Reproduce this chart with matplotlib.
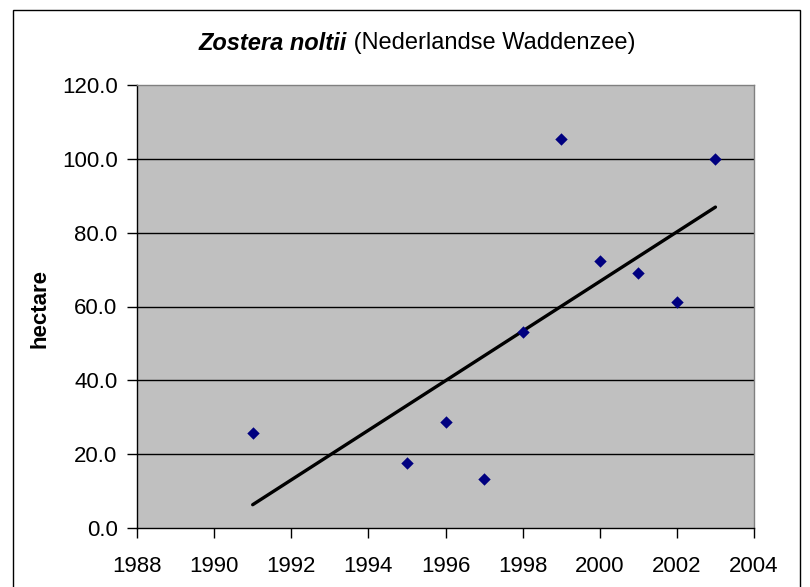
import matplotlib
matplotlib.use("Agg")
import matplotlib.pyplot as plt
import numpy as np
from matplotlib.patches import Rectangle

years = [1991, 1995, 1996, 1997, 1998, 1999, 2000, 2001, 2002, 2003]
hectare = [25.7, 17.6, 28.7, 13.3, 53.2, 105.5, 72.4, 69.1, 61.3, 100.0]
x_ticks = [1988, 1990, 1992, 1994, 1996, 1998, 2000, 2002, 2004]
y_ticks = [0, 20, 40, 60, 80, 100, 120]
title_species = "Zostera noltii"
title_region = " (Nederlandse Waddenzee)"
y_label = "hectare"

plt.rcParams['font.family'] = ['Liberation Sans', 'DejaVu Sans']

fig = plt.figure(figsize=(8.1, 5.87), dpi=100)
fig.patch.set_facecolor('white')

# outer chart border
fig.patches.append(Rectangle((13/810, -0.01), (800-13)/810, (587-10)/587 + 0.01,
                             transform=fig.transFigure, fill=False,
                             edgecolor='black', linewidth=1.0))

ax = fig.add_axes([137/810, (587-528)/587, (754-137)/810, (528-85)/587])
ax.set_facecolor('#C0C0C0')

ax.set_xlim(1988, 2004)
ax.set_ylim(0, 120)
ax.set_xticks(x_ticks)
ax.set_yticks(y_ticks)
ax.set_yticklabels([f"{v:.1f}" for v in y_ticks])
ax.set_xticklabels([str(v) for v in x_ticks])

for v in y_ticks[1:-1]:
    ax.axhline(v, color='black', linewidth=1.0, zorder=1)

# trend line (linear regression)
coef = np.polyfit(years, hectare, 1)
xs = np.array([years[0], years[-1]])
ax.plot(xs, np.polyval(coef, xs), color='black', linewidth=2.4,
        solid_capstyle='round', zorder=2)

ax.scatter(years, hectare, marker='D', s=40, color='#000080', zorder=3, linewidths=0)

for side in ['top', 'right']:
    ax.spines[side].set_color('#808080')
    ax.spines[side].set_linewidth(1.0)
for side in ['left', 'bottom']:
    ax.spines[side].set_color('black')
    ax.spines[side].set_linewidth(1.0)

ax.tick_params(axis='both', direction='out', length=7, width=1.0, color='black',
               labelcolor='black', labelsize=16)
ax.tick_params(axis='x', pad=13.5)
ax.tick_params(axis='y', pad=7)

fig.text(40/810, 1 - 308/587, y_label, rotation=90, ha='center', va='center',
         fontsize=16, fontweight='bold')

t1 = fig.text(199/810, 1 - 43/587, title_species, ha='left', va='center',
              fontsize=17, fontweight='bold', fontstyle='italic')
ax.annotate(title_region, xy=(1, 0.5), xycoords=t1, ha='left', va='center',
            fontsize=17, annotation_clip=False)

fig.savefig('out.png', dpi=100)
